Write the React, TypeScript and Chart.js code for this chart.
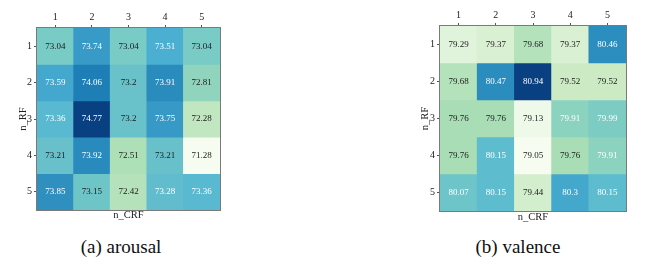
import React, { useEffect, useRef } from 'react';
import { Chart, registerables } from 'chart.js';

Chart.register(...registerables);

// ---- data ----
const colLabels = ['1', '2', '3', '4', '5']; // n_CRF
const rowLabels = ['1', '2', '3', '4', '5']; // n_RF

const arousalValues = [
  [73.04, 73.74, 73.04, 73.51, 73.04],
  [73.59, 74.06, 73.2, 73.91, 72.81],
  [73.36, 74.77, 73.2, 73.75, 72.28],
  [73.21, 73.92, 72.51, 73.21, 71.28],
  [73.85, 73.15, 72.42, 73.28, 73.36],
];

const valenceValues = [
  [79.29, 79.37, 79.68, 79.37, 80.46],
  [79.68, 80.47, 80.94, 79.52, 79.52],
  [79.76, 79.76, 79.13, 79.91, 79.99],
  [79.76, 80.15, 79.05, 79.76, 79.91],
  [80.07, 80.15, 79.44, 80.3, 80.15],
];

const arousalWhiteAbove = 73.25;
const valenceWhiteAbove = 79.85;

const arousalCaption = '(a) arousal';
const valenceCaption = '(b) valence';

// ---- colour map (GnBu) ----
const GNBU = ['#f7fcf0', '#e0f3db', '#ccebc5', '#a8ddb5', '#7bccc4', '#4eb3d3', '#2b8cbe', '#0868ac', '#084081'];

function hexToRgb(h: string) {
  return [parseInt(h.slice(1, 3), 16), parseInt(h.slice(3, 5), 16), parseInt(h.slice(5, 7), 16)];
}

function gnbu(t: number) {
  const tt = Math.max(0, Math.min(1, t));
  const pos = tt * (GNBU.length - 1);
  const i = Math.min(GNBU.length - 2, Math.floor(pos));
  const f = pos - i;
  const a = hexToRgb(GNBU[i]);
  const b = hexToRgb(GNBU[i + 1]);
  const c = a.map((v, k) => Math.round(v + (b[k] - v) * f));
  return `rgb(${c[0]},${c[1]},${c[2]})`;
}

const FONT = 'Liberation Serif, serif';

type Geo = {
  canvasW: number;
  canvasH: number;
  left: number;
  top: number;
  bottom: number;
  right: number;
  yTitlePad: number;
  xTitlePad: number;
};

function Heatmap({ values, whiteAbove, geo }: { values: number[][]; whiteAbove: number; geo: Geo }) {
  const ref = useRef<HTMLCanvasElement | null>(null);

  useEffect(() => {
    if (!ref.current) return;
    const flat = values.flat();
    const vmin = Math.min(...flat);
    const vmax = Math.max(...flat);

    const cellText = {
      id: 'cellText',
      afterDatasetsDraw(chart: any) {
        const ctx = chart.ctx;
        ctx.save();
        ctx.font = `9px ${FONT}`;
        ctx.textAlign = 'center';
        ctx.textBaseline = 'middle';
        chart.data.datasets.forEach((ds: any, di: number) => {
          const meta = chart.getDatasetMeta(di);
          meta.data.forEach((el: any, i: number) => {
            const v = values[di][i];
            const p = el.getProps(['x', 'y', 'base'], true);
            ctx.fillStyle = v > whiteAbove ? '#ffffff' : '#1a1a1a';
            ctx.fillText(String(v), p.x, (p.y + p.base) / 2);
          });
        });
        const a = chart.chartArea;
        ctx.strokeStyle = '#7a7a7a';
        ctx.lineWidth = 1;
        ctx.strokeRect(Math.round(a.left) - 0.5, Math.round(a.top) - 0.5, Math.round(a.right - a.left) + 1, Math.round(a.bottom - a.top) + 1);
        ctx.restore();
      },
    };

    const chart = new Chart(ref.current, {
      type: 'bar',
      data: {
        labels: colLabels,
        datasets: values.map((row, r) => ({
          label: 'n_RF ' + rowLabels[r],
          data: row.map(() => [r + 0.5, r + 1.5]),
          backgroundColor: row.map((v) => gnbu((v - vmin) / (vmax - vmin))),
          borderWidth: 0,
          grouped: false,
          barPercentage: 1,
          categoryPercentage: 1,
        })),
      } as any,
      options: {
        animation: false,
        responsive: false,
        maintainAspectRatio: false,
        layout: { padding: { left: 0, top: 0, right: geo.right, bottom: 0 } },
        plugins: { legend: { display: false }, tooltip: { enabled: false } },
        scales: {
          x: {
            type: 'category',
            position: 'top',
            offset: true,
            grid: { display: true, drawOnChartArea: false, drawTicks: true, tickLength: 3, offset: false, color: '#555' },
            border: { display: false },
            ticks: { font: { family: FONT, size: 10 }, color: '#222', padding: 2 },
            afterFit: (s: any) => {
              s.height = geo.top;
            },
          },
          x2: {
            type: 'category',
            position: 'bottom',
            labels: colLabels,
            offset: true,
            grid: { display: false },
            border: { display: false },
            ticks: { display: false },
            title: { display: true, text: 'n_CRF', font: { family: FONT, size: 10.5 }, color: '#222', padding: { top: 0, bottom: geo.xTitlePad } },
            afterFit: (s: any) => {
              s.height = geo.bottom;
            },
          },
          y: {
            type: 'linear',
            min: 0.5,
            max: 5.5,
            reverse: true,
            afterBuildTicks: (s: any) => {
              s.ticks = rowLabels.map((_, i) => ({ value: i + 1 }));
            },
            grid: { display: true, drawOnChartArea: false, drawTicks: true, tickLength: 3, color: '#555' },
            border: { display: false },
            ticks: {
              font: { family: FONT, size: 10 },
              color: '#222',
              padding: 2,
              callback: (v: any) => rowLabels[Math.round(Number(v)) - 1] ?? '',
            },
            title: { display: true, text: 'n_RF', font: { family: FONT, size: 10.5 }, color: '#222', padding: { top: geo.yTitlePad, bottom: 0 } },
            afterFit: (s: any) => {
              s.width = geo.left;
            },
          },
        },
      } as any,
      plugins: [cellText],
    });
    return () => chart.destroy();
  }, [values, whiteAbove, geo]);

  return <canvas ref={ref} width={geo.canvasW} height={geo.canvasH} style={{ width: geo.canvasW, height: geo.canvasH, display: 'block' }} />;
}

const leftGeo: Geo = { canvasW: 232, canvasH: 226, left: 37, top: 28, bottom: 16, right: 12, yTitlePad: 17, xTitlePad: 4 };
const rightGeo: Geo = { canvasW: 260, canvasH: 226, left: 60, top: 26, bottom: 15, right: 14, yTitlePad: 39, xTitlePad: 2 };

const captionStyle: React.CSSProperties = {
  position: 'absolute',
  width: 200,
  top: 235,
  textAlign: 'center',
  fontFamily: 'Liberation Serif, serif',
  fontSize: 19,
  lineHeight: '24px',
  color: '#111',
};

export default function App() {
  return (
    <div style={{ position: 'absolute', left: 0, top: 0, width: 645, height: 270, background: '#fff', overflow: 'hidden' }}>
      <div style={{ position: 'absolute', left: 0, top: 0 }}>
        <Heatmap values={arousalValues} whiteAbove={arousalWhiteAbove} geo={leftGeo} />
      </div>
      <div style={{ position: 'absolute', left: 380, top: 0 }}>
        <Heatmap values={valenceValues} whiteAbove={valenceWhiteAbove} geo={rightGeo} />
      </div>
      <div style={{ ...captionStyle, left: 21 }}>{arousalCaption}</div>
      <div style={{ ...captionStyle, left: 418 }}>{valenceCaption}</div>
    </div>
  );
}
